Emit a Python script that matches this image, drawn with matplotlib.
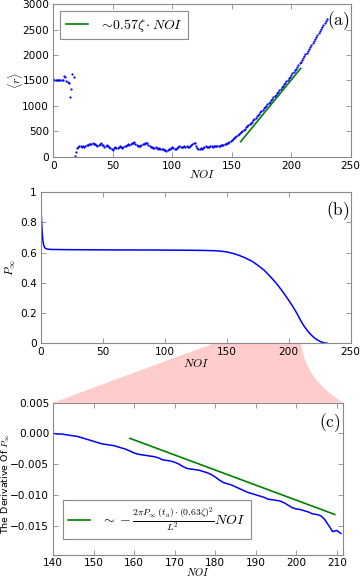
import matplotlib
matplotlib.use("Agg")
import matplotlib.pyplot as plt
import numpy as np
from matplotlib.path import Path
from matplotlib.patches import PathPatch
from matplotlib.ticker import FuncFormatter, MultipleLocator

plt.rcParams['mathtext.fontset'] = 'cm'
plt.rcParams['font.family'] = ['DejaVu Sans']

# ---------------- data ----------------
# panel (a): <r> versus NOI, one value per NOI = 0..230
noi_a = list(range(0, 231))
r_a = [
    1520, 1515, 1518, 1512, 1515, 1510, 1508, 1505, 1500,
    1594, 1562, 1496, 1470, 1444, 1181, 1326, 1627, 1575,
    5, 100, 170,
    195, 205, 215, 190, 210, 200, 215, 225, 235, 245,
    250, 258, 262, 255, 245, 228, 212, 222, 248, 262,
    240, 222, 198, 215, 232, 205, 185, 168, 150, 138,
    162, 190, 175, 168, 190, 212, 195, 178, 200, 215,
    205, 225, 242, 230, 250, 262, 272, 282, 255, 235,
    218, 205, 215, 230, 242, 250, 262, 272, 276, 240,
    215, 198, 190, 180, 165, 185, 170, 160, 172, 150,
    145, 158, 135, 132, 110, 135, 160, 150, 172, 195,
    165, 146, 155, 178, 195, 210, 185, 200, 190, 205,
    195, 210, 200, 190, 205, 222, 242, 265, 276, 220,
    165, 150, 160, 170, 160, 172, 200, 215, 195, 185,
    200, 205, 210, 200, 205, 210, 205, 210, 215, 220,
    225, 232, 240, 248,
    255, 265, 277, 290, 310,
    330, 350, 370, 390, 410, 430, 450, 470, 491, 512,
    533, 553, 575, 597, 620, 643, 667, 692, 718, 744,
    770, 796, 822, 848, 874, 900, 926, 952, 978, 1004,
    1031, 1058, 1085, 1112, 1139, 1166, 1193, 1221, 1249, 1277,
    1305, 1334, 1363, 1393, 1423, 1453, 1483, 1513, 1544, 1575,
    1606, 1638, 1670, 1703, 1736, 1769, 1803, 1837, 1871, 1905,
    1940, 1976, 2012, 2049, 2086, 2123, 2160, 2198, 2236, 2274,
    2312, 2351, 2390, 2429, 2468, 2507, 2546, 2585, 2624, 2663,
    2702,
]
fit_a_noi = [157.5, 208.0]
fit_a_r = [295, 1740]

# panel (b): P_inf versus NOI
noi_b = [0, 0.5, 1, 1.5, 2, 2.5, 3, 4, 5, 7, 10, 20, 40, 60, 80, 100, 120, 130,
         140, 145, 150, 155, 160, 165, 170, 175, 180, 185, 190, 195, 200, 203,
         206, 208, 210, 212, 214, 216, 218, 220, 222, 224, 226, 228, 230, 231]
p_b = [0.90, 0.80, 0.73, 0.68, 0.655, 0.64, 0.632, 0.626, 0.623, 0.621, 0.620,
       0.619, 0.618, 0.617, 0.617, 0.616, 0.615, 0.614,
       0.612, 0.609, 0.604, 0.594, 0.581, 0.564, 0.544, 0.516, 0.484, 0.442,
       0.396, 0.343, 0.284, 0.247, 0.206, 0.176, 0.145, 0.118, 0.095, 0.074,
       0.056, 0.041, 0.028, 0.018, 0.010, 0.004, 0.001, 0.0]

# panel (c): derivative of P_inf, NOI = 140..211
noi_c = list(range(140, 212))
dp_c = [
    -0.0000, -0.0001, -0.0001, -0.0002, -0.0003, -0.0004, -0.0005, -0.0007, -0.0009, -0.0011,
    -0.0013, -0.0015, -0.0017, -0.0018, -0.0019, -0.0020, -0.0022, -0.0024, -0.0026, -0.0029,
    -0.0032, -0.0034, -0.0035, -0.0036, -0.0037, -0.0038, -0.0040, -0.0043, -0.0044, -0.0045,
    -0.0047, -0.0050, -0.0054, -0.0057, -0.0058, -0.0059, -0.0060, -0.0062, -0.0064, -0.0067,
    -0.0071, -0.0076, -0.0080, -0.0082, -0.0084, -0.0087, -0.0090, -0.0093, -0.0096, -0.0098,
    -0.0100, -0.0102, -0.0104, -0.0107, -0.0108, -0.0109, -0.0110, -0.0113, -0.0117, -0.0121,
    -0.0123, -0.0124, -0.0126, -0.0128, -0.0131, -0.0132, -0.0134, -0.0140, -0.0150, -0.0160,
    -0.0158, -0.0163,
]
fit_c_noi = [158.9, 209.5]
fit_c_dp = [-0.0008, -0.0132]

zoom_range = [140, 210]

# ---------------- figure ----------------
W, H = 361, 577
fig = plt.figure(figsize=(W / 100, H / 100), dpi=100)

def axrect(l, t, r, b):
    return [l / W, 1 - b / H, (r - l) / W, (b - t) / H]

ax_a = fig.add_axes(axrect(53.3, 4.3, 350.7, 156.7))
ax_b = fig.add_axes(axrect(41.0, 192.0, 350.7, 343.3))
ax_c = fig.add_axes(axrect(53.3, 402.7, 343.3, 555.0))

spine_col = '#8a8a8a'
tick_fs = 7.6

def style(ax):
    for s in ax.spines.values():
        s.set_color(spine_col)
        s.set_linewidth(0.8)
    ax.tick_params(direction='in', top=True, right=True, length=3.5, width=0.6,
                   color=spine_col, labelsize=tick_fs, pad=3)

# (a)
ax_a.plot(noi_a, r_a, 'o', ms=1.6, mew=0, color='#0000ff')
ax_a.plot(fit_a_noi, fit_a_r, '-', color='#008000', lw=1.2,
          label=r'$\sim\!0.57\zeta\cdot NOI$')
ax_a.set_xlim(0, 250)
ax_a.set_ylim(0, 3000)
ax_a.xaxis.set_major_locator(MultipleLocator(50))
ax_a.yaxis.set_major_locator(MultipleLocator(500))
style(ax_a)
ax_a.set_xlabel(r'$NOI$', fontsize=8.5)
ax_a.set_ylabel(r'$\langle r\rangle$', fontsize=8.5)
ax_a.xaxis.set_label_coords(0.5, -0.075)
ax_a.yaxis.set_label_coords(-0.095, 0.5)
leg = ax_a.legend(loc='upper left', fontsize=10, handlelength=1.6, fancybox=False,
                  framealpha=1, edgecolor=spine_col)
leg.get_frame().set_linewidth(0.8)
ax_a.text(0.995, 0.965, r'$\mathrm{(a)}$', transform=ax_a.transAxes, ha='right',
          va='top', fontsize=12.5)

# (b)
ax_b.plot(noi_b, p_b, '-', color='#0000ff', lw=1.1)
ax_b.set_xlim(0, 250)
ax_b.set_ylim(0, 1)
ax_b.xaxis.set_major_locator(MultipleLocator(50))
ax_b.yaxis.set_major_locator(MultipleLocator(0.2))
ax_b.yaxis.set_major_formatter(FuncFormatter(lambda v, p: '%g' % round(v, 3)))
style(ax_b)
ax_b.set_xlabel(r'$NOI$', fontsize=8.5)
ax_b.set_ylabel(r'$P_\infty$', fontsize=8.5)
ax_b.xaxis.set_label_coords(0.5, -0.09)
ax_b.yaxis.set_label_coords(-0.074, 0.5)
ax_b.text(0.995, 0.955, r'$\mathrm{(b)}$', transform=ax_b.transAxes, ha='right',
          va='top', fontsize=12.5)

# (c)
ax_c.plot(noi_c, dp_c, '-', color='#0000ff', lw=1.1)
ax_c.plot(fit_c_noi, fit_c_dp, '-', color='#008000', lw=1.2,
          label=r'$\sim-\frac{2\pi P_\infty\,(t_a)\cdot(0.63\zeta)^2}{L^2}NOI$')
ax_c.set_xlim(140, 211.6)
ax_c.set_ylim(-0.0198, 0.005)
ax_c.xaxis.set_major_locator(MultipleLocator(10))
ax_c.yaxis.set_major_locator(MultipleLocator(0.005))
ax_c.yaxis.set_major_formatter(FuncFormatter(
    lambda v, p: ('%.3f' % v).replace('-', '\u2212') if abs(v) > 1e-9 else '0.000'))
style(ax_c)
ax_c.tick_params(axis='x', pad=2)
ax_c.set_xlabel(r'$NOI$', fontsize=7.6)
ax_c.set_ylabel(r'The Derivative Of $P_\infty$', fontsize=6.8)
ax_c.xaxis.set_label_coords(0.5, -0.072)
ax_c.yaxis.set_label_coords(-0.143, 0.47)
leg_c = ax_c.legend(loc='lower left', bbox_to_anchor=(0.032, 0.103), borderaxespad=0,
                    fontsize=10, handlelength=1.6, fancybox=False, framealpha=1,
                    edgecolor=spine_col)
leg_c.get_frame().set_linewidth(0.8)
ax_c.text(0.99, 0.945, r'$\mathrm{(c)}$', transform=ax_c.transAxes, ha='right',
          va='top', fontsize=12.5)

# ---------------- pink zoom connector ----------------
fig.canvas.draw()
to_fig = fig.transFigure.inverted()
b0 = to_fig.transform(ax_b.transData.transform((zoom_range[0], 0)))
b1 = to_fig.transform(ax_b.transData.transform((zoom_range[1], 0)))
c0 = to_fig.transform(ax_c.transAxes.transform((0, 1)))
c1 = to_fig.transform(ax_c.transAxes.transform((1, 1)))
cl = (c0[0] + 0.54 * (b0[0] - c0[0]), c0[1] + 0.55 * (b0[1] - c0[1]))
cr = (b1[0] + 0.10 * (c1[0] - b1[0]), b1[1] + 0.617 * (c1[1] - b1[1]))
verts = [tuple(c0), cl, tuple(b0), tuple(b1), cr, tuple(c1), tuple(c0)]
codes = [Path.MOVETO, Path.CURVE3, Path.CURVE3, Path.LINETO, Path.CURVE3, Path.CURVE3,
         Path.CLOSEPOLY]
patch = PathPatch(Path(verts, codes), transform=fig.transFigure, facecolor='#ffcccc',
                  edgecolor='none', zorder=-1)
fig.patches.append(patch)

fig.savefig('out.png', dpi=100)
